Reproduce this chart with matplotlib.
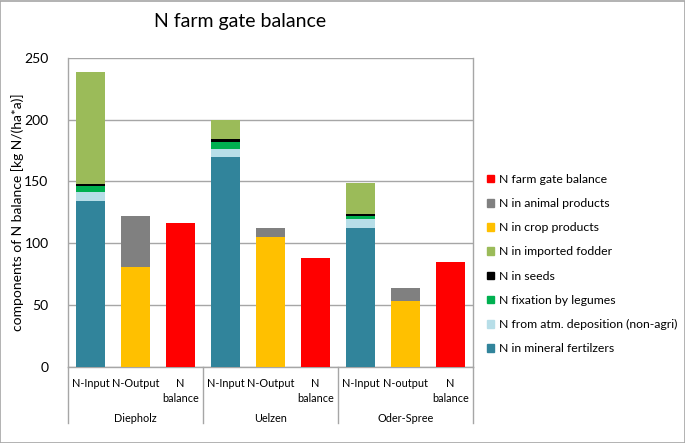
import matplotlib
matplotlib.use("Agg")
import matplotlib.pyplot as plt
from matplotlib.patches import Rectangle, Patch
import numpy as np

plt.rcParams['font.family'] = ['Lato', 'DejaVu Sans']

# ---- data ----
regions = ["Diepholz", "Uelzen", "Oder-Spree"]
bar_labels = ["N-Input", "N-Output", "N\nbalance",
              "N-Input", "N-Output", "N\nbalance",
              "N-Input", "N-output", "N\nbalance"]
mineral = [134.2, 169.5, 112.1]
deposition = [7.0, 6.8, 7.3]
legumes = [5.4, 5.7, 2.9]
seeds = [1.6, 2.4, 1.1]
fodder = [90.2, 15.4, 25.6]
crop = [80.5, 105.0, 53.3]
animal = [41.3, 7.1, 10.5]
balance = [116.1, 87.8, 84.8]
yticks = [0, 50, 100, 150, 200, 250]

colors = {
    "mineral": "#31849B",
    "deposition": "#B7DEE8",
    "legumes": "#00B050",
    "seeds": "#000000",
    "fodder": "#9BBB59",
    "crop": "#FFC000",
    "animal": "#808080",
    "balance": "#FF0000",
}

fig = plt.figure(figsize=(6.85, 4.43), dpi=100)
ax = fig.add_axes([68/685, 1-366.7/443, (473-68)/685, (366.7-58)/443])

n = len(regions)
x_in = np.arange(n) * 3
x_out = x_in + 1
x_bal = x_in + 2
w = 0.66

bottom = np.zeros(n)
for key, vals in [("mineral", mineral), ("deposition", deposition), ("legumes", legumes),
                  ("seeds", seeds), ("fodder", fodder)]:
    ax.bar(x_in, vals, w, bottom=bottom, color=colors[key], zorder=3)
    bottom = bottom + np.array(vals)

ax.bar(x_out, crop, w, color=colors["crop"], zorder=3)
ax.bar(x_out, animal, w, bottom=crop, color=colors["animal"], zorder=3)
ax.bar(x_bal, balance, w, color=colors["balance"], zorder=3)

ax.set_xlim(-0.5, 3*n - 0.5)
ax.set_ylim(0, 250)
ax.set_yticks(yticks)
ax.set_yticklabels([str(t) for t in yticks], fontsize=10, color="#000000")
ax.tick_params(axis='y', length=0, pad=14)
ax.set_xticks([])
ax.yaxis.grid(True, color="#A6A6A6", linewidth=1.0, zorder=0)
ax.set_axisbelow(True)
for s in ["left", "right", "bottom"]:
    ax.spines[s].set_color("#A6A6A6")
    ax.spines[s].set_linewidth(1.0)
ax.spines["top"].set_visible(False)

ax.set_ylabel("components of N balance [kg N/(ha*a)]", fontsize=10)
ax.yaxis.set_label_coords((24 - 68) / 405, 0.5)

# multilevel category labels
trans = ax.get_xaxis_transform()
all_x = np.arange(3*n)
for xi, lab in zip(all_x, bar_labels):
    ax.text(xi, -0.035, lab, transform=trans, ha="center", va="top",
            fontsize=7.8, linespacing=1.45)
for i, r in enumerate(regions):
    ax.text(3*i + 1, -0.15, r, transform=trans, ha="center", va="top", fontsize=7.8)
for b in np.arange(n + 1) * 3 - 0.5:
    ax.plot([b, b], [0, -0.183], transform=trans, color="#A6A6A6", lw=1.0, clip_on=False)

fig.text(240/685, 1-22/443, "N farm gate balance", ha="center", va="center", fontsize=14)

handles = [
    Patch(color=colors["balance"], label="N farm gate balance"),
    Patch(color=colors["animal"], label="N in animal products"),
    Patch(color=colors["crop"], label="N in crop products"),
    Patch(color=colors["fodder"], label="N in imported fodder"),
    Patch(color=colors["seeds"], label="N in seeds"),
    Patch(color=colors["legumes"], label="N fixation by legumes"),
    Patch(color=colors["deposition"], label="N from atm. deposition (non-agri)"),
    Patch(color=colors["mineral"], label="N in mineral fertilzers"),
]
fig.legend(handles=handles, loc="upper left", bbox_to_anchor=(482/685, 1-169/443),
           frameon=False, fontsize=8.8, handlelength=0.6, handleheight=0.6,
           handletextpad=0.4, labelspacing=1.08, borderaxespad=0)

fig.add_artist(Rectangle((0.0007, 0.001), 0.9986, 0.997, transform=fig.transFigure,
                         fill=False, edgecolor="#A6A6A6", lw=1.2))

fig.savefig("out.png", dpi=100)
